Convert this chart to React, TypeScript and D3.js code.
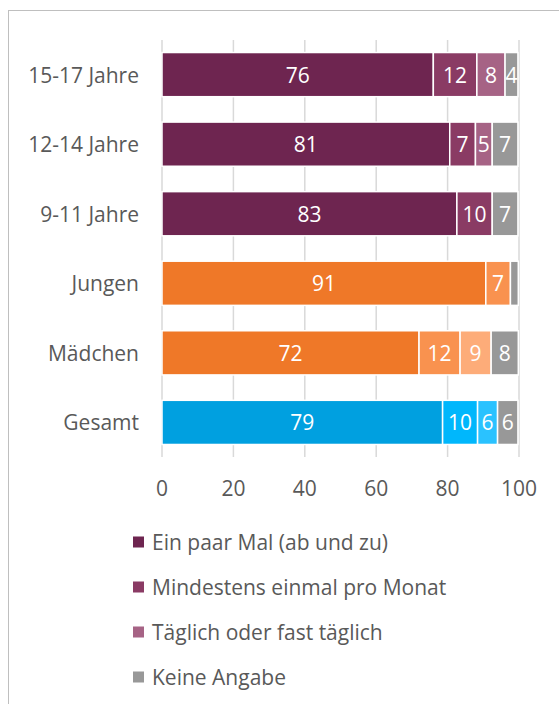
import React from "react";
import * as d3 from "d3";

const categories = ["15-17 Jahre", "12-14 Jahre", "9-11 Jahre", "Jungen", "Mädchen", "Gesamt"];
const seriesNames = ["Ein paar Mal (ab und zu)", "Mindestens einmal pro Monat", "Täglich oder fast täglich", "Keine Angabe"];
const einPaarMal = [76.0, 80.6, 82.6, 90.7, 72.0, 78.6];
const mindestensMonat = [12.2, 7.2, 9.9, 6.9, 11.5, 9.8];
const taeglich = [7.9, 4.7, 0, 0, 8.7, 5.6];
const keineAngabe = [3.6, 7.2, 7.2, 2.2, 7.6, 5.7];
const xTicks = [0, 20, 40, 60, 80, 100];

const purple = ["#6E2550", "#8A3B64", "#A66385", "#989898"];
const orange = ["#EF7828", "#F9924F", "#FDAC79", "#989898"];
const blue = ["#00A0E0", "#00B7FC", "#2AC2FF", "#989898"];
const rowPalettes = [purple, purple, purple, orange, orange, blue];

const FONT = "'Open Sans', sans-serif";
const FS = 21;

export default function App() {
  const W = 559, H = 704;
  const x = d3.scaleLinear().domain([0, 100]).range([162, 519]);
  const y = d3.scaleBand().domain(categories).range([40, 457]).paddingInner(0.365).paddingOuter(0.18);
  const series = [einPaarMal, mindestensMonat, taeglich, keineAngabe];

  return (
    <svg width={W} height={H} style={{ position: "absolute", left: 0, top: 0 }} fontFamily={FONT}>
      <rect x={0} y={0} width={W} height={H} fill="#fff" />
      <rect x={8.5} y={10.5} width={W + 10} height={H + 10} fill="none" stroke="#BFBFBF" strokeWidth={1} />
      {xTicks.map((t) => (
        <line key={t} x1={x(t)} x2={x(t)} y1={40} y2={457} stroke="#D9D9D9" strokeWidth={1.5} />
      ))}
      {categories.map((c, i) => {
        const y0 = y(c)!;
        const bh = y.bandwidth();
        let acc = 0;
        return (
          <g key={c}>
            <text x={139} y={y0 + bh / 2} textAnchor="end" dominantBaseline="central" fontSize={FS} fill="#595959">
              {c}
            </text>
            {series.map((s, k) => {
              const v = s[i];
              const start = acc;
              acc += v;
              if (v <= 0) return null;
              const x0 = x(start), x1 = x(start + v);
              return (
                <g key={k}>
                  <rect x={x0} y={y0} width={x1 - x0} height={bh} fill={rowPalettes[i][k]} stroke="#fff" strokeWidth={1.5} />
                  {v >= 3 && (
                    <text x={(x0 + x1) / 2} y={y0 + bh / 2} textAnchor="middle" dominantBaseline="central" fontSize={FS} fill="#fff">
                      {Math.round(v)}
                    </text>
                  )}
                </g>
              );
            })}
          </g>
        );
      })}
      {xTicks.map((t) => (
        <text key={t} x={x(t)} y={488} textAnchor="middle" dominantBaseline="central" fontSize={FS} fill="#595959">
          {t}
        </text>
      ))}
      {seriesNames.map((n, k) => (
        <g key={n}>
          <rect x={133} y={542 + k * 45 - 5.5} width={11} height={11} fill={purple[k]} />
          <text x={152} y={542 + k * 45} dominantBaseline="central" fontSize={FS} fill="#595959">
            {n}
          </text>
        </g>
      ))}
    </svg>
  );
}
